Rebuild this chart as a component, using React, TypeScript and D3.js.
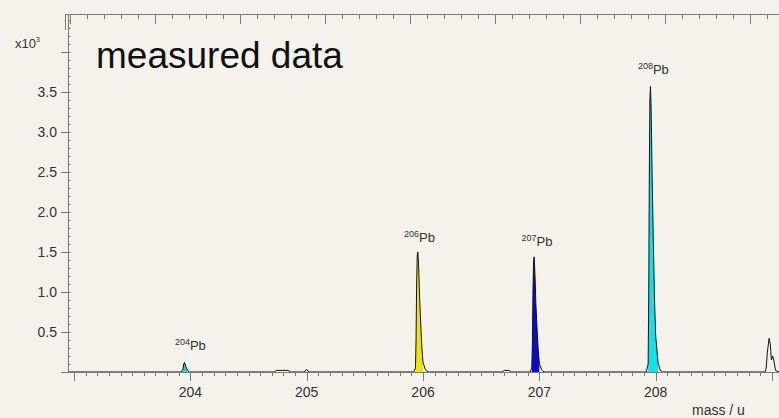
import React, { useRef, useEffect } from 'react';
import * as d3 from 'd3';

// spectrum outline (mass in u, intensity in 10^3 counts)
const spectrumMass = [
  202.95, 203.92, 203.935, 203.945, 203.95, 203.96, 203.975, 203.99,
  204.72, 204.74, 204.84, 204.86, 204.98, 204.995, 205.01, 205.02,
  205.92, 205.935, 205.94, 205.945, 205.95, 205.955, 205.96, 205.965, 205.97, 205.98, 205.99, 206.0, 206.02, 206.04,
  206.68, 206.7, 206.74, 206.76,
  206.92, 206.935, 206.94, 206.945, 206.95, 206.955, 206.96, 206.965, 206.97, 206.98, 206.99, 207.0, 207.02, 207.04,
  207.92, 207.935, 207.94, 207.945, 207.95, 207.955, 207.96, 207.965, 207.97, 207.98, 207.99, 208.0, 208.02, 208.04, 208.06,
  208.94, 208.95, 208.96, 208.975, 208.985, 208.995, 209.005, 209.015, 209.03, 209.06,
];
const spectrumIntensity = [
  0, 0, 0.03, 0.11, 0.12, 0.07, 0.02, 0,
  0, 0.02, 0.02, 0, 0, 0.03, 0.02, 0,
  0, 0.05, 0.4, 1.1, 1.45, 1.5, 1.4, 1.2, 0.95, 0.6, 0.3, 0.12, 0.03, 0,
  0, 0.02, 0.02, 0,
  0, 0.05, 0.35, 1.0, 1.38, 1.44, 1.3, 1.1, 0.85, 0.55, 0.28, 0.1, 0.03, 0,
  0, 0.1, 0.9, 2.4, 3.4, 3.57, 3.35, 2.9, 2.4, 1.6, 0.9, 0.45, 0.12, 0.02, 0,
  0, 0.05, 0.25, 0.42, 0.35, 0.15, 0.2, 0.15, 0.02, 0,
];

const isotopeNumbers = ['204', '206', '207', '208'];
const isotopeLabelMass = [204.0, 205.97, 206.98, 207.98];
const isotopeLabelValue = [0.27, 1.63, 1.58, 3.72];
const windowLow = [203.93, 205.93, 206.93, 207.93];
const windowHigh = [203.98, 206.01, 207.01, 208.03];
const isotopeColors = ['#14d8e0', '#eee40c', '#0a0ad6', '#12e2e6'];

const massTicks = [204, 205, 206, 207, 208];
const intensityTicks = [0.5, 1.0, 1.5, 2.0, 2.5, 3.0, 3.5];

export default function App() {
  const ref = useRef<SVGSVGElement>(null);

  useEffect(() => {
    const svg = d3.select(ref.current);
    svg.selectAll('*').remove();

    const width = 779;
    const height = 418;
    const axisColor = '#7a7a7a';
    const textColor = '#333';
    const font = 'Liberation Sans, Arial, sans-serif';

    const x = d3.scaleLinear().domain([202.948, 209.06]).range([68, 779]);
    const y = d3.scaleLinear().domain([0, 4.475]).range([372, 14]);
    const xTop = d3.scaleLinear().domain([0, 41.7]).range([70, 779]);

    svg.attr('width', width).attr('height', height);
    svg.append('rect').attr('width', width).attr('height', height).attr('fill', '#f5f2eb');

    const points: [number, number][] = spectrumMass.map((m, i) => [m, spectrumIntensity[i]]);

    // filled integration windows
    const area = d3.area<[number, number]>()
      .x(d => x(d[0]))
      .y0(y(0))
      .y1(d => y(d[1]));
    isotopeNumbers.forEach((n, i) => {
      const seg = points.filter(p => p[0] >= windowLow[i] && p[0] <= windowHigh[i]);
      svg.append('path')
        .attr('d', area(seg))
        .attr('fill', isotopeColors[i]);
    });

    // spectrum outline
    const line = d3.line<[number, number]>().x(d => x(d[0])).y(d => y(d[1]));
    svg.append('path')
      .attr('d', line(points))
      .attr('fill', 'none')
      .attr('stroke', '#111')
      .attr('stroke-width', 1);

    // bottom axis
    const bottom = svg.append('g').attr('stroke', axisColor).attr('stroke-width', 1);
    bottom.append('line').attr('x1', 61).attr('x2', width).attr('y1', 372.5).attr('y2', 372.5);
    d3.range(2030, 2091).map(v => v / 10).forEach(v => {
      const major = Math.abs(v - Math.round(v)) < 1e-6;
      bottom.append('line')
        .attr('x1', Math.round(x(v)) + 0.5).attr('x2', Math.round(x(v)) + 0.5)
        .attr('y1', 372).attr('y2', major ? 381 : 376);
    });
    svg.append('g').selectAll('text').data(massTicks).join('text')
      .attr('x', d => x(d)).attr('y', 397)
      .attr('text-anchor', 'middle')
      .attr('font-family', font).attr('font-size', 14).attr('fill', textColor)
      .text(d => d);
    svg.append('text')
      .attr('x', 692).attr('y', 415)
      .attr('font-family', font).attr('font-size', 14).attr('fill', textColor)
      .text('mass / u');

    // left axis
    const left = svg.append('g').attr('stroke', axisColor).attr('stroke-width', 1);
    left.append('line').attr('x1', 68.5).attr('x2', 68.5).attr('y1', 14).attr('y2', 372);
    d3.range(1, 45).map(v => v / 10).forEach(v => {
      left.append('line')
        .attr('x1', 68).attr('x2', 70.5)
        .attr('y1', Math.round(y(v)) + 0.5).attr('y2', Math.round(y(v)) + 0.5);
    });
    [...intensityTicks, 4.0].forEach(v => {
      left.append('line')
        .attr('x1', 61).attr('x2', 68)
        .attr('y1', Math.round(y(v)) + 0.5).attr('y2', Math.round(y(v)) + 0.5);
    });
    svg.append('g').selectAll('text').data(intensityTicks).join('text')
      .attr('x', 57).attr('y', d => y(d) + 5)
      .attr('text-anchor', 'end')
      .attr('font-family', font).attr('font-size', 14).attr('fill', textColor)
      .text(d => d.toFixed(1));
    const exp = svg.append('text')
      .attr('x', 15).attr('y', 48)
      .attr('font-family', font).attr('font-size', 13).attr('fill', textColor);
    exp.append('tspan').text('x10');
    exp.append('tspan').attr('font-size', 7).attr('dy', -6).text('3');

    // top axis
    const top = svg.append('g').attr('stroke', axisColor).attr('stroke-width', 1);
    top.append('line').attr('x1', 65).attr('x2', width).attr('y1', 14.5).attr('y2', 14.5);
    top.append('line').attr('x1', 65.5).attr('x2', 65.5).attr('y1', 14).attr('y2', 30);
    d3.range(0, 42).forEach(v => {
      top.append('line')
        .attr('x1', Math.round(xTop(v)) + 0.5).attr('x2', Math.round(xTop(v)) + 0.5)
        .attr('y1', 14).attr('y2', v % 5 === 0 ? 24 : 19);
    });

    // title
    svg.append('text')
      .attr('x', 96).attr('y', 68)
      .attr('font-family', font).attr('font-size', 37).attr('fill', '#111')
      .text('measured data');

    // isotope labels
    isotopeNumbers.forEach((n, i) => {
      const t = svg.append('text')
        .attr('x', x(isotopeLabelMass[i])).attr('y', y(isotopeLabelValue[i]))
        .attr('text-anchor', 'middle')
        .attr('font-family', font).attr('fill', textColor);
      t.append('tspan').attr('font-size', 9).attr('dy', -5).text(n);
      t.append('tspan').attr('font-size', 13).attr('dy', 5).text('Pb');
    });
  }, []);

  return <svg ref={ref} style={{ position: 'absolute', left: 0, top: 0 }} />;
}
